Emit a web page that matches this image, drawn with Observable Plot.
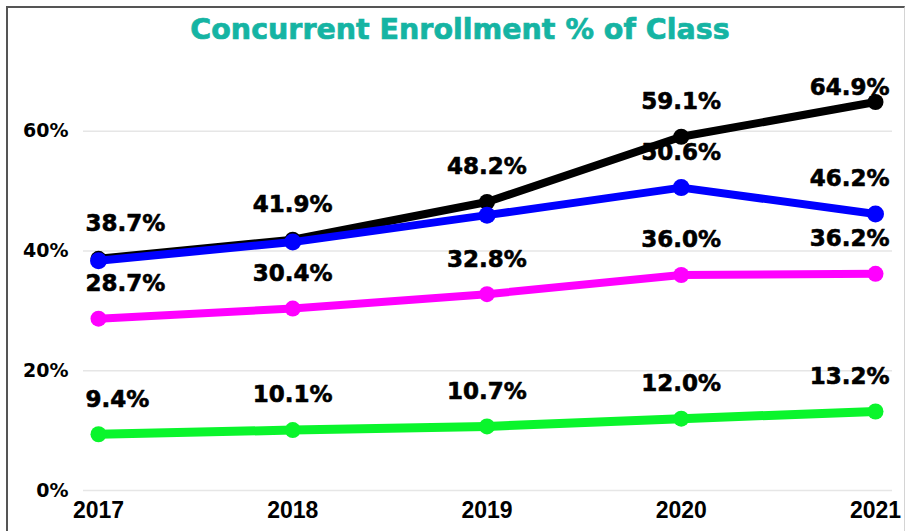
<!DOCTYPE html>
<html>
<head>
<meta charset="utf-8">
<script src="https://cdn.jsdelivr.net/npm/d3@7"></script>
<script src="https://cdn.jsdelivr.net/npm/@observablehq/plot@0.6"></script>
<style>
  html, body { margin: 0; padding: 0; background: #fff; overflow: hidden; }
  #wrap { position: relative; width: 906px; height: 531px; }
  #title {
    box-sizing: border-box; height: 50px; padding-top: 16px; margin-left: 14px; width: 892px;
    text-align: center; font-family: "DejaVu Sans", sans-serif; font-weight: bold;
    font-size: 28.5px; line-height: 28.5px; color: #15b4a3; white-space: nowrap;
    -webkit-text-stroke: 0.7px #15b4a3;
  }
  #frame {
    position: absolute; left: 6px; top: 6px; width: 896px; height: 560px;
    border-left: 2.5px solid #555; border-top: 2.5px solid #555; border-right: 1px solid #d4d4d4;
    pointer-events: none;
  }
  svg { display: block; }
</style>
</head>
<body>
<div id="wrap">
  <div id="title">Concurrent Enrollment % of Class</div>
  <div id="chart"></div>
  <div id="frame"></div>
</div>
<script>
// ---- data ----
const years = [2017, 2018, 2019, 2020, 2021];
const blackSeries   = [38.7, 41.9, 48.2, 59.1, 64.9];
const blueSeries    = [38.4, 41.5, 46.0, 50.6, 46.2];
const magentaSeries = [28.7, 30.4, 32.8, 36.0, 36.2];
const greenSeries   = [9.4, 10.1, 10.7, 12.0, 13.2];
const blueLabelShown = [false, false, false, true, true];
const yTicks = [0, 20, 40, 60];

const fmt = v => v.toFixed(1) + "%";
const rows = (arr, name) => years.map((yr, i) => ({year: yr, v: arr[i], name, i}));

const black = rows(blackSeries, "black");
const blue = rows(blueSeries, "blue");
const magenta = rows(magentaSeries, "magenta");
const green = rows(greenSeries, "green");

const labelOpts = {fontSize: 23, fontWeight: "bold", fontFamily: "DejaVu Sans", fill: "#000", stroke: "#000", strokeWidth: 0.6};

function labelMarks(data, dyLast = -35) {
  const first = data.filter(d => d.i === 0);
  const mid = data.filter(d => d.i > 0 && d.i < years.length - 1);
  const last = data.filter(d => d.i === years.length - 1);
  return [
    Plot.text(first, {x: "year", y: "v", text: d => fmt(d.v), textAnchor: "start", dx: -13, dy: -35, ...labelOpts}),
    Plot.text(mid, {x: "year", y: "v", text: d => fmt(d.v), textAnchor: "middle", dy: -35, ...labelOpts}),
    Plot.text(last, {x: "year", y: "v", text: d => fmt(d.v), textAnchor: "end", dx: 14, dy: dyLast, ...labelOpts})
  ];
}

function series(data, color, sw = 8, r = 8) {
  return [
    Plot.line(data, {x: "year", y: "v", stroke: color, strokeWidth: sw}),
    Plot.dot(data, {x: "year", y: "v", r, fill: color, stroke: "none"})
  ];
}

const chart = Plot.plot({
  width: 906,
  height: 481,
  marginTop: 21,
  marginBottom: 41,
  marginLeft: 83,
  marginRight: 14,
  x: {domain: [2017, 2021], insetLeft: 15, insetRight: 17, label: null},
  y: {domain: [0, 70], label: null},
  style: {background: "transparent", overflow: "visible"},
  marks: [
    Plot.gridY(yTicks, {stroke: "#e6e6e6", strokeOpacity: 1, strokeWidth: 1.5}),
    Plot.axisY({ticks: yTicks, tickFormat: d => d + "%", tickSize: 0, tickPadding: 15,
      fontSize: 19, fontWeight: "bold", fontFamily: "DejaVu Sans", fill: "#000", stroke: "#000", strokeWidth: 0.4, label: null}),
    Plot.axisX({ticks: years, tickFormat: d => String(d), tickSize: 0, tickPadding: 11,
      fontSize: 23, fontWeight: "bold", fontFamily: "Liberation Sans", fill: "#000", stroke: "#000", strokeWidth: 0.6, label: null}),
    ...series(green, "#0af52c", 9, 8),
    ...series(magenta, "#ff00ff", 8, 8),
    ...labelMarks(blue.filter(d => blueLabelShown[d.i])),
    ...series(black, "#000000", 8, 8),
    ...series(blue, "#0000ff", 8, 8.5),
    ...labelMarks(black, -14),
    ...labelMarks(magenta),
    ...labelMarks(green)
  ]
});
document.getElementById("chart").appendChild(chart);
</script>
</body>
</html>
